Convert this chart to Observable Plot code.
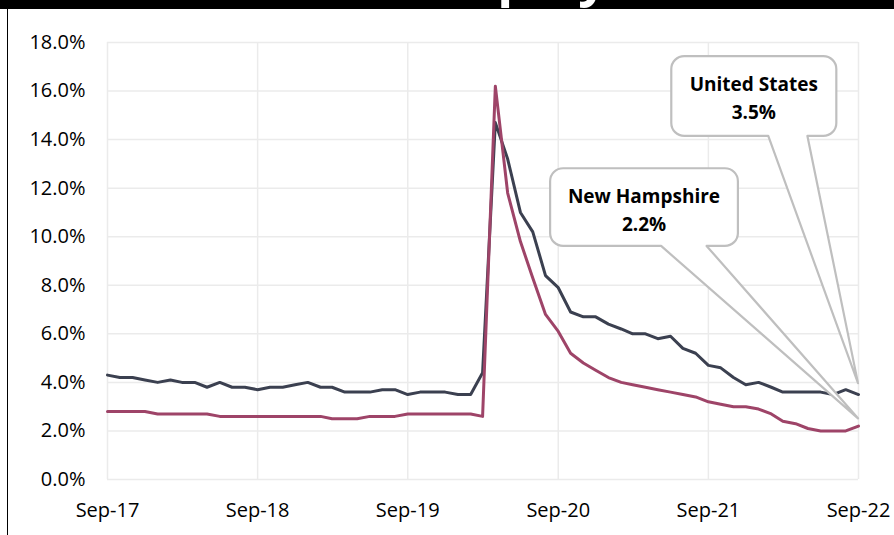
<!DOCTYPE html>
<html><head><meta charset="utf-8">
<script src="https://cdn.jsdelivr.net/npm/d3@7"></script>
<script src="https://cdn.jsdelivr.net/npm/@observablehq/plot@0.6"></script>
<style>
body{margin:0;background:#fff;font-family:"Open Sans",sans-serif;}
#title{height:9px;background:#000;overflow:hidden;position:relative;}
#title span{position:absolute;left:342px;top:-51px;font-size:52px;line-height:52px;font-weight:700;color:#fff;white-space:nowrap;}
#wrap{margin-left:7px;border-left:1px solid #000;width:886px;height:526px;}
</style></head><body>
<div id="title"><span>Unemployment Rate</span></div>
<div id="wrap"></div>
<script>
// ---- data ----
const firstMonth = "2017-09-01";
const seriesNames = ["United States", "New Hampshire"];
const usRate = [
  4.3, 4.2, 4.2, 4.1,
  4.0, 4.1, 4.0, 4.0, 3.8, 4.0, 3.8, 3.8, 3.7, 3.8, 3.8, 3.9,
  4.0, 3.8, 3.8, 3.6, 3.6, 3.6, 3.7, 3.7, 3.5, 3.6, 3.6, 3.6,
  3.5, 3.5, 4.4, 14.7, 13.2, 11.0, 10.2, 8.4, 7.9, 6.9, 6.7, 6.7,
  6.4, 6.2, 6.0, 6.0, 5.8, 5.9, 5.4, 5.2, 4.7, 4.6, 4.2, 3.9,
  4.0, 3.8, 3.6, 3.6, 3.6, 3.6, 3.5, 3.7, 3.5
];
const nhRate = [
  2.8, 2.8, 2.8, 2.8,
  2.7, 2.7, 2.7, 2.7, 2.7, 2.6, 2.6, 2.6, 2.6, 2.6, 2.6, 2.6,
  2.6, 2.6, 2.5, 2.5, 2.5, 2.6, 2.6, 2.6, 2.7, 2.7, 2.7, 2.7,
  2.7, 2.7, 2.6, 16.2, 11.8, 9.8, 8.3, 6.8, 6.1, 5.2, 4.8, 4.5,
  4.2, 4.0, 3.9, 3.8, 3.7, 3.6, 3.5, 3.4, 3.2, 3.1, 3.0, 3.0,
  2.9, 2.7, 2.4, 2.3, 2.1, 2.0, 2.0, 2.0, 2.2
];
const yTicks = [0, 2, 4, 6, 8, 10, 12, 14, 16, 18];
const xTickLabels = ["Sep-17", "Sep-18", "Sep-19", "Sep-20", "Sep-21", "Sep-22"];

// annotation anchors (month index from first month, percent value)
const calloutSeries = ["United States", "New Hampshire"];
const calloutBox = [
  {m0: 45.1, m1: 58.3, top: 17.42, bottom: 14.13, b0: 52.8, b1: 56.0, tipM: 60, tipV: 3.95},
  {m0: 35.4, m1: 50.4, top: 12.8, bottom: 9.6, b0: 44.3, b1: 47.9, tipM: 60, tipV: 2.5}
];

// ---- build ----
const start = new Date(firstMonth + "T00:00:00Z");
const months = usRate.map((_, i) => d3.utcMonth.offset(start, i));
const rows = [];
months.forEach((d, i) => {
  rows.push({date: d, series: seriesNames[0], value: usRate[i]});
});
months.forEach((d, i) => {
  rows.push({date: d, series: seriesNames[1], value: nhRate[i]});
});
const xTicks = xTickLabels.map((_, i) => d3.utcMonth.offset(start, 12 * i));
const tickLabelOf = new Map(xTicks.map((d, i) => [+d, xTickLabels[i]]));
const monthAt = k => {
  const f = Math.floor(k);
  const a = d3.utcMonth.offset(start, f), b = d3.utcMonth.offset(start, f + 1);
  return new Date(+a + (k - f) * (b - a));
};
const lastValue = {"United States": usRate[usRate.length - 1], "New Hampshire": nhRate[nhRate.length - 1]};

function callouts(index, scales, values, dimensions, context) {
  const g = d3.create("svg:g");
  const r = 13;
  calloutBox.forEach((c, i) => {
    const x0 = scales.x(monthAt(c.m0)), x1 = scales.x(monthAt(c.m1));
    const y0 = scales.y(c.top), y1 = scales.y(c.bottom);
    const bx0 = scales.x(monthAt(c.b0)), bx1 = scales.x(monthAt(c.b1));
    const tx = scales.x(monthAt(c.tipM)), ty = scales.y(c.tipV);
    const p = `M${x0 + r},${y0} H${x1 - r} A${r},${r} 0 0 1 ${x1},${y0 + r} V${y1 - r} A${r},${r} 0 0 1 ${x1 - r},${y1} H${bx1} L${tx},${ty} L${bx0},${y1} H${x0 + r} A${r},${r} 0 0 1 ${x0},${y1 - r} V${y0 + r} A${r},${r} 0 0 1 ${x0 + r},${y0} Z`;
    g.append("path").attr("d", p).attr("fill", "#fff").attr("stroke", "#bfbfbf").attr("stroke-width", 2.2).attr("stroke-linejoin", "round");
    const cx = (x0 + x1) / 2;
    const name = calloutSeries[i];
    g.append("text").attr("x", cx).attr("y", y0 + 28).attr("dy", "0.35em").attr("text-anchor", "middle")
      .attr("font-weight", 700).attr("font-size", 19).attr("fill", "#000").text(name);
    g.append("text").attr("x", cx).attr("y", y0 + 56).attr("dy", "0.35em").attr("text-anchor", "middle")
      .attr("font-weight", 700).attr("font-size", 19).attr("fill", "#000").text(lastValue[name].toFixed(1) + "%");
  });
  return g.node();
}

const chart = Plot.plot({
  width: 886,
  height: 526,
  marginLeft: 99,
  marginRight: 36,
  marginTop: 33,
  marginBottom: 56,
  style: {fontFamily: "'Open Sans', sans-serif", fontSize: "20px", color: "#000", background: "transparent", overflow: "visible"},
  x: {type: "utc", domain: [xTicks[0], xTicks[xTicks.length - 1]], ticks: xTicks, tickFormat: d => tickLabelOf.get(+d), tickSize: 0, tickPadding: 23, label: null},
  y: {domain: [0, 18], ticks: yTicks, tickFormat: d => d.toFixed(1) + "%", tickSize: 0, tickPadding: 22, label: null},
  color: {domain: seriesNames, range: ["#3b4050", "#9e4468"]},
  marks: [
    Plot.gridY(yTicks, {stroke: "#ebebeb", strokeOpacity: 1, strokeWidth: 1.5}),
    Plot.gridX(xTicks, {stroke: "#ebebeb", strokeOpacity: 1, strokeWidth: 1.5}),
    Plot.line(rows, {x: "date", y: "value", z: "series", stroke: "series", strokeWidth: 3, strokeLinejoin: "round"}),
    callouts
  ]
});
document.getElementById("wrap").appendChild(chart);
</script>
</body></html>
